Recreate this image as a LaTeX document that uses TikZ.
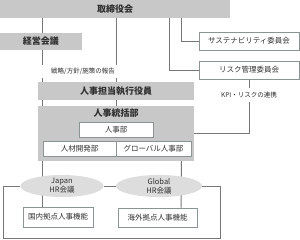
\documentclass[tikz,border=0pt]{standalone}
\usepackage{fontspec}
\setmainfont{Noto Sans CJK JP}
\usepackage{tikz}
\usetikzlibrary{shapes.geometric,backgrounds}

\definecolor{hdrgray}{HTML}{C8C8C8}
\definecolor{ellgray}{HTML}{DDDDDD}
\definecolor{linegray}{HTML}{777777}
\definecolor{boxline}{HTML}{8A9494}
\definecolor{txtgray}{HTML}{303030}

\tikzset{
  hdr/.style={fill=hdrgray, draw=none, inner sep=0pt,
              font=\fontsize{9}{10}\selectfont\bfseries, text=txtgray},
  unit/.style={fill=white, draw=boxline, line width=0.8pt, inner sep=0pt,
               font=\fontsize{7.5}{8}\selectfont, text=txtgray},
  hrmeet/.style={ellipse, fill=ellgray, draw=none, inner sep=0pt, align=center,
                 font=\fontsize{7.5}{9}\selectfont, text=txtgray},
  note/.style={fill=white, inner sep=0pt, font=\fontsize{6.5}{7}\selectfont, text=txtgray},
  link/.style={draw=linegray, line width=1pt}
}

\begin{document}
\begin{tikzpicture}[x=1pt, y=-1pt]
\useasboundingbox (0,0) rectangle (300,239);
% top level
\node[hdr, minimum width=230pt, minimum height=18pt] (board) at (115,9)     {取締役会};
\node[hdr, minimum width=82pt,  minimum height=17pt] (mgmt)  at (41,41.5)   {経営会議};
\node[unit, minimum width=100pt, minimum height=18pt] (sust) at (249,41)    {サステナビリティ委員会};
\node[unit, minimum width=100pt, minimum height=18pt] (risk) at (249,70)    {リスク管理委員会};
% HR organisation
\node[hdr, minimum width=156pt, minimum height=18pt] (exec)  at (116,91)    {人事担当執行役員};
\node[hdr, minimum width=156pt, minimum height=55pt] (hrd)   at (116,133.5) {};
\node[hdr, fill=none] (hrdT) at (116,113) {人事統括部};
\node[unit, minimum width=74pt, minimum height=15pt] (jinji) at (116,129.5) {人事部};
\node[unit, minimum width=73pt, minimum height=15pt] (dev)   at (79.5,148.5) {人材開発部};
\node[unit, minimum width=75pt, minimum height=15pt] (glob)  at (153.5,148.5) {グローバル人事部};
% HR meetings
\node[hrmeet, minimum width=83pt, minimum height=22pt] (jpn) at (62,186)  {Japan\\HR会議};
\node[hrmeet, minimum width=86pt, minimum height=22pt] (gl)  at (159,186) {Global\\HR会議};
\node[unit, minimum width=70pt, minimum height=20pt] (dom) at (58,217)    {国内拠点人事機能};
\node[unit, minimum width=79pt, minimum height=19pt] (ovs) at (157.5,217.5) {海外拠点人事機能};

\coordinate (sv) at (181,0);
\coordinate (rv) at (169,0);
\coordinate (lpL) at (3,238);
\coordinate (lpR) at (220,238);

\begin{scope}[on background layer]
\draw[link] (board.south -| dev.west) -- (mgmt.north -| dev.west);
\draw[link] (mgmt.south -| dev.west)  -- (exec.north -| dev.west);
\draw[link] (board.south -| exec.north) -- (exec.north);
\draw[link] (board.south -| sv) |- (sust.west);
\draw[link] (board.south -| rv) |- (risk.west);
\draw[link] (exec.south -| dev.west) -- (hrd.north -| dev.west);
\draw[link] (exec.south) -- (hrd.north);
\draw[link] (risk.south) |- (hrd.east);
\draw[link] (hrd.south -| dev.west) -- (dom.north -| dev.west);
\draw[link] ([xshift=-10pt]glob.south east) -- (ovs.north -| sv);
\draw[link] (jpn.east) -- (gl.west);
\draw[link] (jpn.west) -| (lpL) -- (lpR) |- (gl.east);
\end{scope}

\node[note, minimum width=84pt, minimum height=13pt] (rep) at (83,71) {戦略/方針/施策の報告};
\node[note, minimum width=66pt, minimum height=14pt] (kpi) at (249,95) {KPI・リスクの連携};
\end{tikzpicture}
\end{document}
